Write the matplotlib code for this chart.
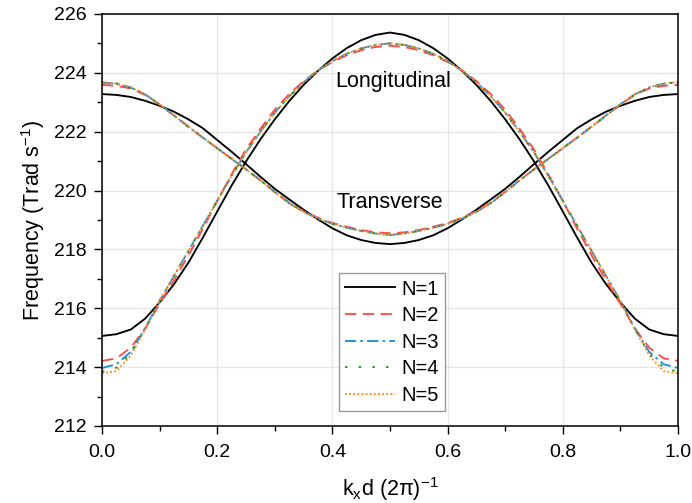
import numpy as np
import matplotlib
matplotlib.use("Agg")
import matplotlib.pyplot as plt
from matplotlib.ticker import MultipleLocator

plt.rcParams['font.family'] = ['Liberation Sans', 'DejaVu Sans']
plt.rcParams['mathtext.fontset'] = 'custom'
plt.rcParams['mathtext.rm'] = 'Liberation Sans'
plt.rcParams['font.size'] = 14

# wave vector k_x d (2pi)^-1, sampled every 0.025
kx = np.linspace(0, 1, 41)

# longitudinal branch (Trad/s)
long_n1 = [215.06, 215.12, 215.28, 215.65, 216.20, 216.82, 217.55, 218.40, 219.29, 220.17, 220.99,
           221.74, 222.42, 223.04, 223.59, 224.07, 224.49, 224.84, 225.11, 225.29, 225.37,
           225.29, 225.11, 224.84, 224.49, 224.07, 223.59, 223.04, 222.42, 221.74, 220.99,
           220.17, 219.29, 218.40, 217.55, 216.82, 216.20, 215.65, 215.28, 215.12, 215.06]
long_n2 = [214.21, 214.30, 214.66, 215.32, 216.15, 216.95, 217.80, 218.70, 219.65, 220.55, 221.40,
           222.10, 222.75, 223.28, 223.72, 224.08, 224.37, 224.60, 224.77, 224.88, 224.92,
           224.88, 224.77, 224.60, 224.37, 224.08, 223.72, 223.28, 222.75, 222.10, 221.40,
           220.55, 219.65, 218.70, 217.80, 216.95, 216.15, 215.32, 214.66, 214.30, 214.21]
long_n3 = [213.97, 214.10, 214.52, 215.32, 216.25, 217.10, 217.95, 218.80, 219.65, 220.50, 221.30,
           222.00, 222.65, 223.20, 223.68, 224.08, 224.40, 224.65, 224.83, 224.95, 225.00,
           224.95, 224.83, 224.65, 224.40, 224.08, 223.68, 223.20, 222.65, 222.00, 221.30,
           220.50, 219.65, 218.80, 217.95, 217.10, 216.25, 215.32, 214.52, 214.10, 213.97]
long_n4 = [213.84, 213.98, 214.46, 215.30, 216.25, 217.10, 217.95, 218.80, 219.65, 220.50, 221.30,
           222.00, 222.65, 223.20, 223.68, 224.08, 224.40, 224.65, 224.83, 224.95, 225.00,
           224.95, 224.83, 224.65, 224.40, 224.08, 223.68, 223.20, 222.65, 222.00, 221.30,
           220.50, 219.65, 218.80, 217.95, 217.10, 216.25, 215.30, 214.46, 213.98, 213.84]
long_n5 = [213.79, 213.86, 214.40, 215.28, 216.25, 217.10, 217.95, 218.80, 219.65, 220.50, 221.30,
           222.00, 222.65, 223.20, 223.68, 224.08, 224.40, 224.65, 224.83, 224.95, 225.00,
           224.95, 224.83, 224.65, 224.40, 224.08, 223.68, 223.20, 222.65, 222.00, 221.30,
           220.50, 219.65, 218.80, 217.95, 217.10, 216.25, 215.28, 214.40, 213.86, 213.79]

# transverse branch (Trad/s)
trans_n1 = [223.28, 223.25, 223.18, 223.05, 222.88, 222.68, 222.42, 222.12, 221.72, 221.32, 220.90,
            220.47, 220.06, 219.70, 219.35, 219.02, 218.72, 218.48, 218.32, 218.22, 218.18,
            218.22, 218.32, 218.48, 218.72, 219.02, 219.35, 219.70, 220.06, 220.47, 220.90,
            221.32, 221.72, 222.12, 222.42, 222.68, 222.88, 223.05, 223.18, 223.25, 223.28]
trans_n2 = [223.59, 223.56, 223.47, 223.25, 222.92, 222.55, 222.17, 221.80, 221.44, 221.08, 220.72,
            220.35, 219.96, 219.59, 219.30, 219.08, 218.90, 218.77, 218.66, 218.58, 218.55,
            218.58, 218.66, 218.77, 218.90, 219.08, 219.30, 219.59, 219.96, 220.35, 220.72,
            221.08, 221.44, 221.80, 222.17, 222.55, 222.92, 223.25, 223.47, 223.56, 223.59]
trans_n3 = [223.67, 223.63, 223.50, 223.27, 222.93, 222.55, 222.17, 221.80, 221.44, 221.08, 220.72,
            220.35, 219.95, 219.57, 219.28, 219.05, 218.87, 218.74, 218.63, 218.54, 218.49,
            218.54, 218.63, 218.74, 218.87, 219.05, 219.28, 219.57, 219.95, 220.35, 220.72,
            221.08, 221.44, 221.80, 222.17, 222.55, 222.93, 223.27, 223.50, 223.63, 223.67]
trans_n4 = [223.68, 223.64, 223.50, 223.27, 222.93, 222.55, 222.17, 221.80, 221.44, 221.08, 220.72,
            220.35, 219.95, 219.57, 219.28, 219.05, 218.87, 218.74, 218.63, 218.54, 218.49,
            218.54, 218.63, 218.74, 218.87, 219.05, 219.28, 219.57, 219.95, 220.35, 220.72,
            221.08, 221.44, 221.80, 222.17, 222.55, 222.93, 223.27, 223.50, 223.64, 223.68]
trans_n5 = [223.69, 223.64, 223.51, 223.27, 222.93, 222.55, 222.17, 221.80, 221.44, 221.08, 220.72,
            220.35, 219.95, 219.57, 219.28, 219.05, 218.87, 218.74, 218.63, 218.54, 218.49,
            218.54, 218.63, 218.74, 218.87, 219.05, 219.28, 219.57, 219.95, 220.35, 220.72,
            221.08, 221.44, 221.80, 222.17, 222.55, 222.93, 223.27, 223.51, 223.64, 223.69]

labels = ['N=1', 'N=2', 'N=3', 'N=4', 'N=5']
colors = ['black', '#ff4a4a', '#1f8ed6', '#1a9a1a', '#ff8a1a']
dashes = [None, (6, 3.5), (6, 2.2, 1.4, 2.2), (1.3, 6), (1, 1.2)]
longs = [long_n1, long_n2, long_n3, long_n4, long_n5]
transs = [trans_n1, trans_n2, trans_n3, trans_n4, trans_n5]

fig = plt.figure(figsize=(6.92, 5.03), dpi=100)
ax = fig.add_axes([102/692, 1 - 426/503, 576/692, 412/503])

for i in range(5):
    kw = dict(color=colors[i], lw=1.35)
    if dashes[i] is not None:
        kw['dashes'] = dashes[i]
    ax.plot(kx, longs[i], label=labels[i], **kw)
    ax.plot(kx, transs[i], **kw)

ax.set_xlim(0, 1)
ax.set_ylim(212, 226)
ax.xaxis.set_major_locator(MultipleLocator(0.2))
ax.xaxis.set_minor_locator(MultipleLocator(0.1))
ax.yaxis.set_major_locator(MultipleLocator(2))
ax.yaxis.set_minor_locator(MultipleLocator(1))
ax.xaxis.set_major_formatter(plt.FuncFormatter(lambda v, p: '%.1f' % v))
ax.tick_params(which='major', direction='out', length=6, width=1, pad=5)
ax.tick_params(axis='x', which='major', pad=7)
ax.tick_params(which='minor', direction='out', length=3.5, width=1)
ax.tick_params(top=False, right=False, which='both')
ax.grid(True, which='major', color='#e6e6e6', lw=0.9)
ax.set_axisbelow(True)
for s in ax.spines.values():
    s.set_linewidth(1.1)

ax.text(0.506, 223.7, 'Longitudinal', ha='center', va='center', fontsize=15.5)
ax.text(0.5, 219.6, 'Transverse', ha='center', va='center', fontsize=15.5)

ax.set_xlabel(r'k$_\mathregular{x}$d (2$\mathregular{\pi}$)$^\mathregular{-1}$', fontsize=15.5, labelpad=10)
ax.set_ylabel(r'Frequency (Trad s$^\mathregular{-1}$)', fontsize=15.5, labelpad=5)

leg = ax.legend(loc='lower left', bbox_to_anchor=(0.411, 0.036), borderaxespad=0, fontsize=14.5,
                handlelength=2.5, handletextpad=0.3, labelspacing=0.38,
                borderpad=0.3, fancybox=False, edgecolor='#999999', framealpha=1)
leg.get_frame().set_linewidth(1.0)

fig.savefig('out.png', dpi=100)
